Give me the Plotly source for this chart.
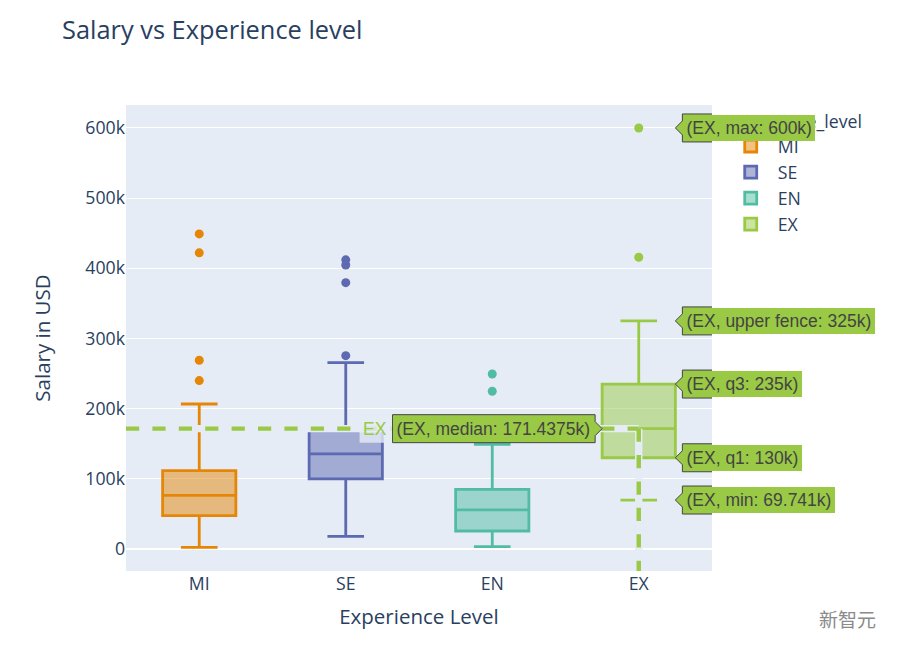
import plotly.graph_objects as go

# ---------------- data ----------------
categories = ["MI", "SE", "EN", "EX"]
q1_vals = [47500, 100000, 25600, 130000]
median_vals = [76500, 135400, 55600, 171437.5]
q3_vals = [111600, 170000, 85000, 235000]
lower_fence = [2400, 18000, 3300, 69741]
upper_fence = [206600, 265500, 149000, 325000]
outliers_MI = [240000, 269000, 422000, 449000]
outliers_SE = [275500, 379500, 404700, 412000]
outliers_EN = [224700, 249400]
outliers_EX = [415700, 600000]
outliers = [outliers_MI, outliers_SE, outliers_EN, outliers_EX]

colors = ["rgb(229,134,6)", "rgb(93,105,177)", "rgb(82,188,163)", "rgb(153,201,69)"]
BG = "rgb(229,236,246)"

# figure geometry (page body has an 8px margin)
FW, FH = 899, 648
ML, MR, MT, MB = 118, 195, 97, 85
PW, PH = FW - ML - MR, FH - MT - MB

fig = go.Figure()
for i, cat in enumerate(categories):
    fig.add_trace(go.Box(
        x=[cat], q1=[q1_vals[i]], median=[median_vals[i]], q3=[q3_vals[i]],
        lowerfence=[lower_fence[i]], upperfence=[upper_fence[i]],
        name=cat, marker_color=colors[i], line_width=2.8,
        width=0.5, boxpoints=False, hoverinfo="skip",
    ))
    fig.add_trace(go.Scatter(
        x=[cat] * len(outliers[i]), y=outliers[i], mode="markers",
        marker=dict(color=colors[i], size=9),
        showlegend=False, hoverinfo="skip",
    ))

# ---------------- simulated hover state on EX ----------------
hi = categories.index("EX")
hcol = colors[hi]
hmed = median_vals[hi]
ymin_range, ymax_range = -31400, 632700

# spike lines (background + dashed)
for w, col, dash in [(7.4, BG, "solid"), (4.4, hcol, "dash")]:
    fig.add_shape(type="line", xref="x", yref="y", x0=-0.5, x1=hi, y0=hmed, y1=hmed,
                  line=dict(color=col, width=w, dash=dash), layer="above")
    fig.add_shape(type="line", xref="x", yref="y", x0=hi, x1=hi, y0=hmed, y1=ymin_range,
                  line=dict(color=col, width=w, dash=dash), layer="above")

ARIAL = {'(': 333, ')': 333, 'E': 667, 'X': 667, ',': 278, ' ': 278, ':': 278, '.': 278,
         'k': 500, 'm': 833, 'a': 556, 'x': 500, 'e': 556, 'd': 556, 'i': 222, 'n': 556,
         'u': 556, 'p': 556, 'r': 333, 'f': 278, 'c': 500, 'q': 556}
HFS = 17.5


def tw(s):
    return sum(ARIAL.get(ch, 556) for ch in s) / 1000 * HFS


def fmt(v):
    s = f"{v / 1000:.4f}".rstrip("0").rstrip(".")
    return s + "k"


right_labels = [
    ("max", max(outliers[hi])),
    ("upper fence", upper_fence[hi]),
    ("q3", q3_vals[hi]),
    ("q1", q1_vals[hi]),
    ("min", lower_fence[hi]),
]
A = 7
H = 14
edge_r = hi + 0.25
edge_l = hi - 0.25
for name, v in right_labels:
    txt = f"({categories[hi]}, {name}: {fmt(v)})"
    W = tw(txt) + 9
    fig.add_shape(type="path", xref="x", yref="y", xsizemode="pixel", ysizemode="pixel",
                  xanchor=edge_r, yanchor=v,
                  path=f"M0,0 L{A},{A} L{A},{H} L{A + W},{H} L{A + W},{-H} L{A},{-H} L{A},{-A} Z",
                  fillcolor=hcol, line=dict(color="#444", width=1), layer="above")
    fig.add_annotation(x=edge_r, y=v, xref="x", yref="y", text=txt, showarrow=False,
                       xanchor="left", yanchor="middle", xshift=A + 1, width=W - 8, height=20,
                       borderpad=3, bgcolor=hcol, borderwidth=0,
                       font=dict(family="Liberation Sans, Arial", size=HFS, color="#444"))

# median label (left side) with trace name
txt = f"({categories[hi]}, median: {fmt(hmed)})"
W = tw(txt) + 9
NW = 33
fig.add_shape(type="path", xref="x", yref="y", xsizemode="pixel", ysizemode="pixel",
              xanchor=edge_l, yanchor=hmed,
              path=f"M{-A - W - NW},{H} L{-A - W},{H} L{-A - W},{-H} L{-A - W - NW},{-H} Z",
              fillcolor="rgba(229,236,246,0.8)", line=dict(width=0), layer="above")
fig.add_shape(type="path", xref="x", yref="y", xsizemode="pixel", ysizemode="pixel",
              xanchor=edge_l, yanchor=hmed,
              path=f"M0,0 L{-A},{A} L{-A},{H} L{-A - W},{H} L{-A - W},{-H} L{-A},{-H} L{-A},{-A} Z",
              fillcolor=hcol, line=dict(color="#444", width=1), layer="above")
fig.add_annotation(x=edge_l, y=hmed, xref="x", yref="y", text=txt, showarrow=False,
                   xanchor="right", yanchor="middle", xshift=-A - 1, width=W - 8, height=20,
                   borderpad=3, bgcolor=hcol, borderwidth=0,
                   font=dict(family="Liberation Sans, Arial", size=HFS, color="#444"))
fig.add_annotation(x=edge_l, y=hmed, xref="x", yref="y", text=categories[hi], showarrow=False,
                   xanchor="right", yanchor="middle", xshift=-A - W - 4,
                   font=dict(family="Liberation Sans, Arial", size=HFS, color=hcol))

# watermark (bottom-right corner, outside the plot area)
fig.add_annotation(x=(870 - ML) / PW, y=(FH - MB - 610) / PH, xref="paper", yref="paper",
                   text="新智元", showarrow=False, xanchor="right", yanchor="middle",
                   font=dict(family="Noto Sans CJK SC", size=19, color="#8a8a8a"))

fig.update_layout(
    width=FW, height=FH,
    template="plotly",
    margin=dict(l=ML, r=MR, t=MT, b=MB),
    title=dict(text="Salary vs Experience level", x=54 / FW, xanchor="left",
               y=1 - 22 / FH, yanchor="middle", font=dict(size=25.4)),
    boxmode="overlay",
    legend=dict(title=dict(text="experience_level", font=dict(size=17.7)),
                font=dict(size=17.7), bgcolor="rgba(0,0,0,0)", itemwidth=44,
                tracegroupgap=0, x=1.02, y=1, yanchor="top"),
    xaxis=dict(title=dict(text="Experience Level", font=dict(size=20.5), standoff=15),
               categoryorder="array", categoryarray=categories,
               tickfont=dict(size=17.7), range=[-0.5, 3.5]),
    yaxis=dict(title=dict(text="Salary in USD", font=dict(size=20.5), standoff=29),
               tickfont=dict(size=17.7), range=[ymin_range, ymax_range],
               dtick=100000),
)

fig.write_html("out.html")
